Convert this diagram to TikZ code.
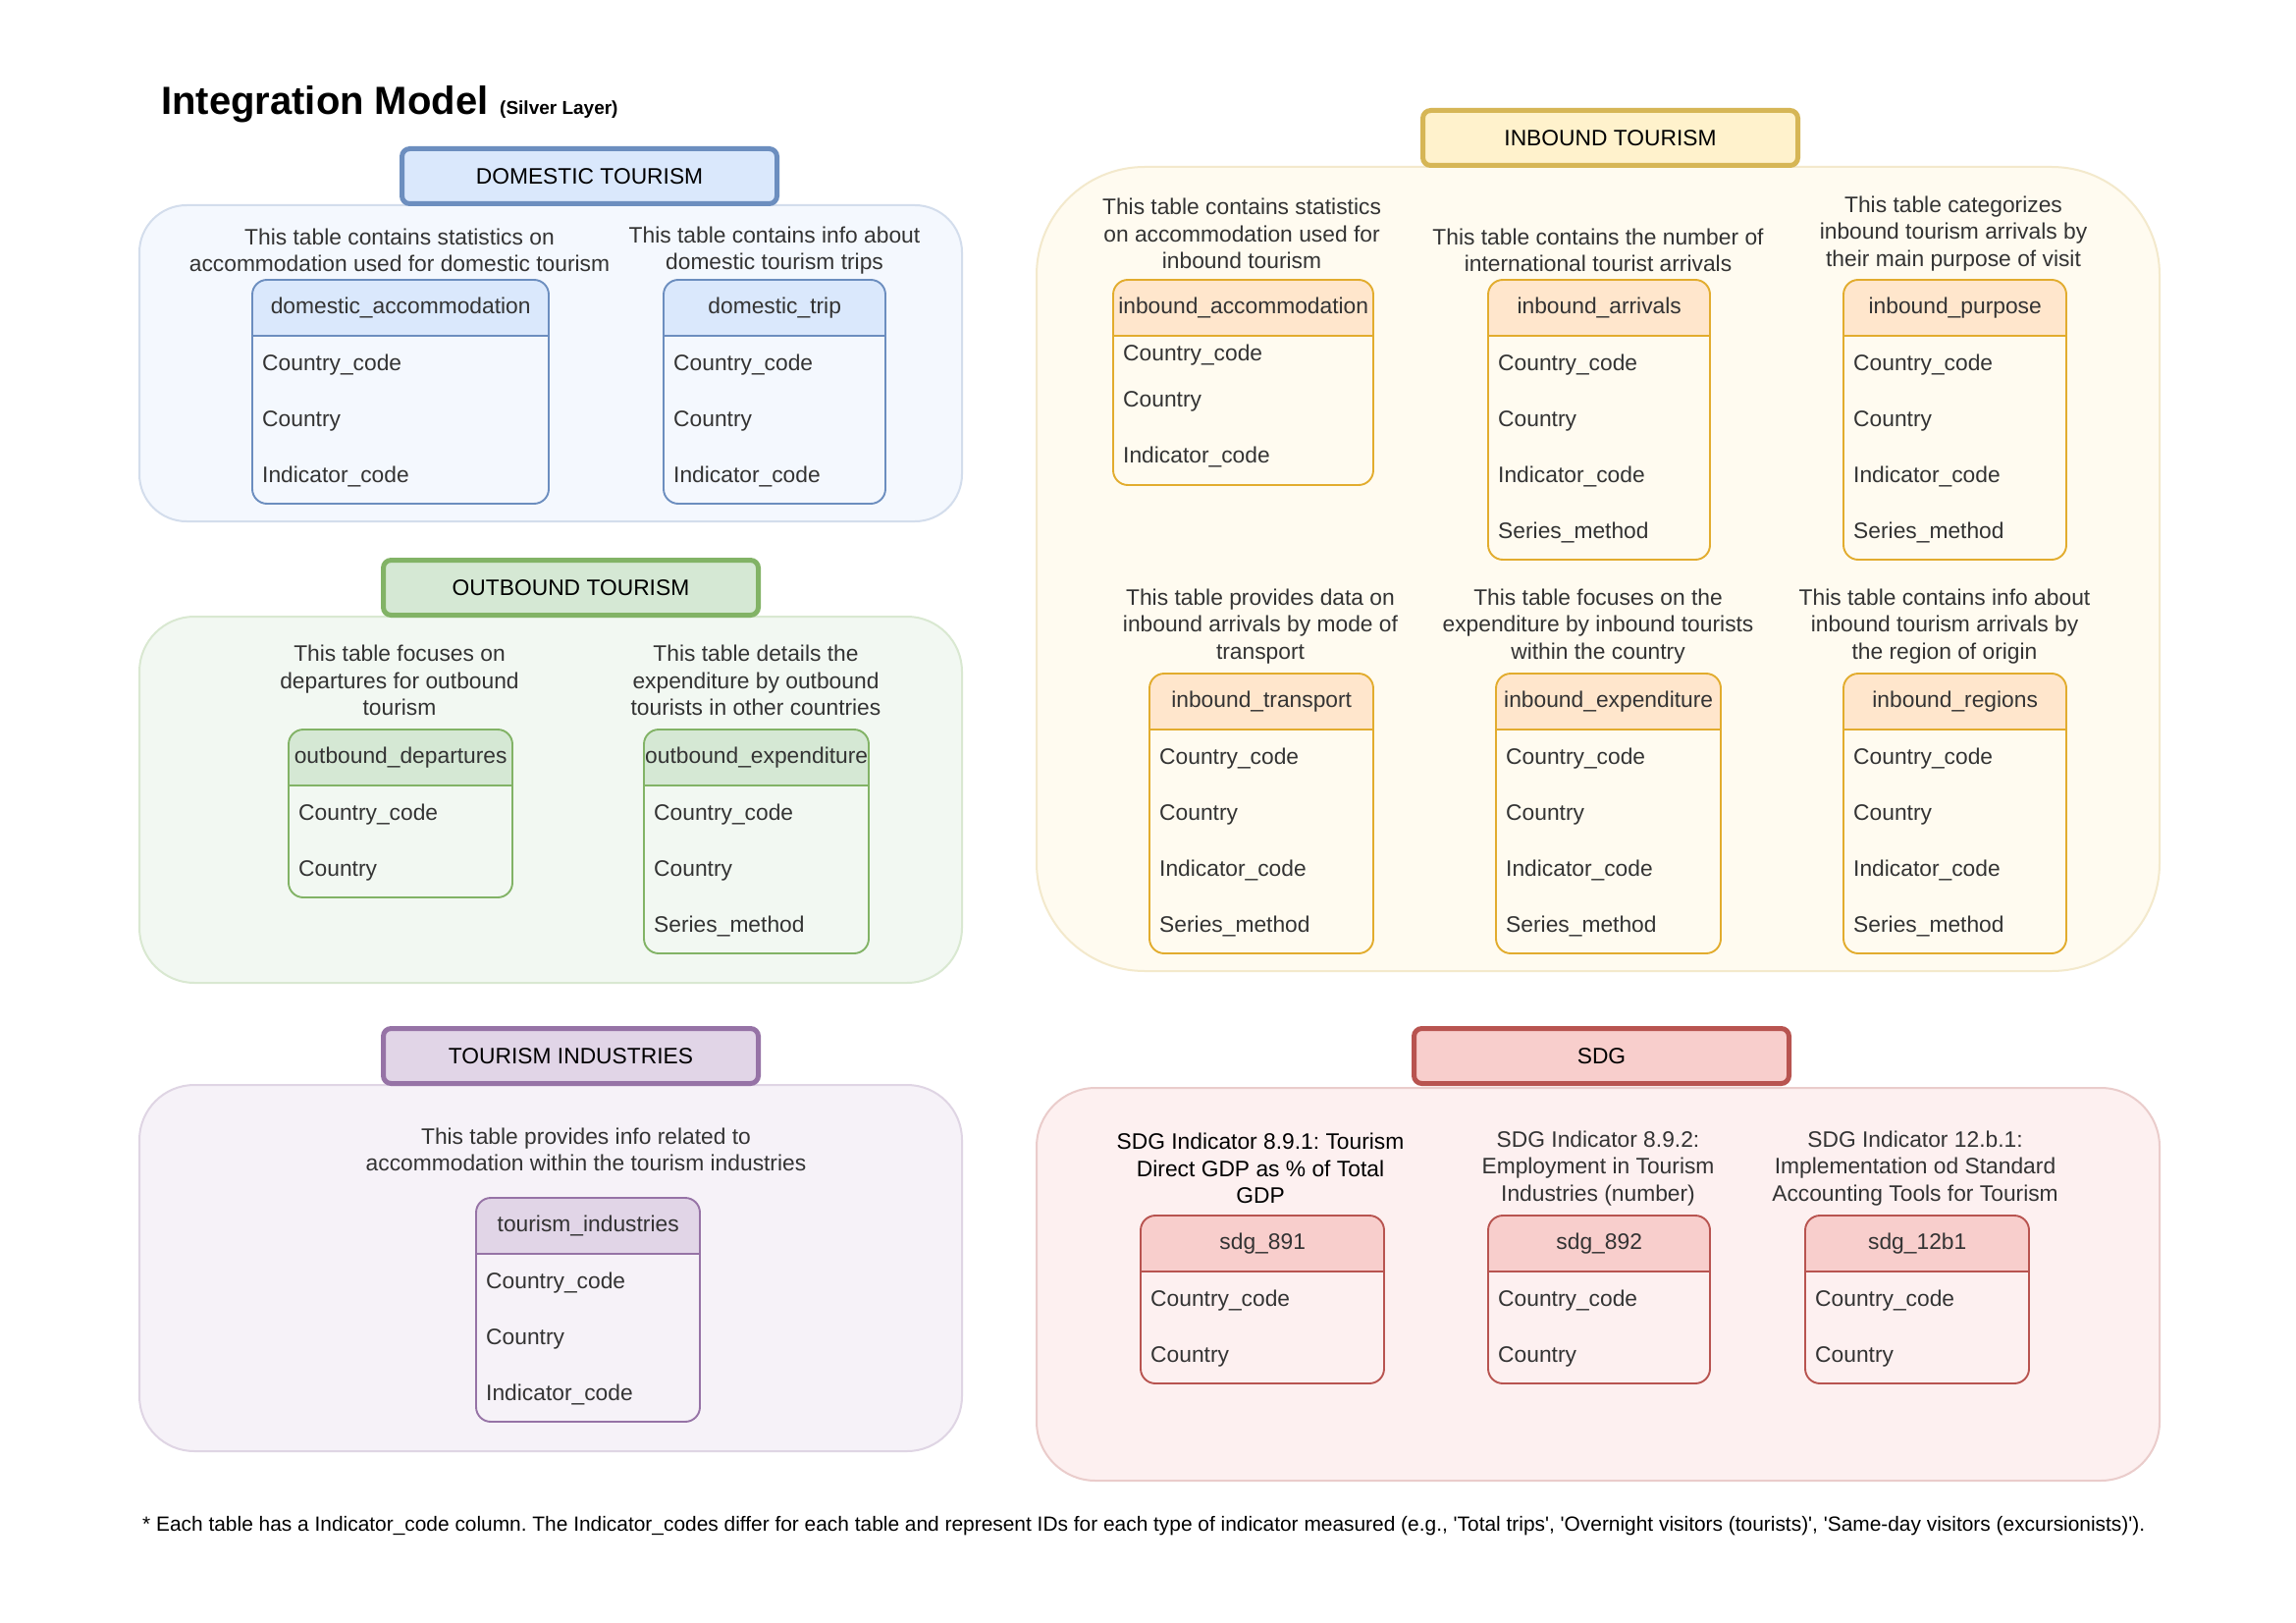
\documentclass[tikz,border=0pt]{standalone}
\usepackage{fontspec}
\setmainfont{Liberation Sans}

\definecolor{blufill}{HTML}{DAE8FC}
\definecolor{blustroke}{HTML}{6C8EBF}
\definecolor{grnfill}{HTML}{D5E8D4}
\definecolor{grnstroke}{HTML}{82B366}
\definecolor{purfill}{HTML}{E1D5E7}
\definecolor{purstroke}{HTML}{9673A6}
\definecolor{yelfill}{HTML}{FFF2CC}
\definecolor{yelstroke}{HTML}{D6B656}
\definecolor{orafill}{HTML}{FFE6CC}
\definecolor{orastroke}{HTML}{E2AC2E}
\definecolor{redfill}{HTML}{F8CECC}
\definecolor{redstroke}{HTML}{B85450}
\definecolor{txtgray}{HTML}{333333}

\tikzset{
  grouphead/.style={draw,line width=5pt,rounded corners=8pt,minimum width=382pt,minimum height=56pt,
    anchor=north west,inner sep=0pt,font=\fontsize{22.8}{27.4}\selectfont,text=black},
  groupbox/.style={line width=2pt},
  tblhead/.style={minimum height=57pt,anchor=north west,inner sep=0pt,
    font=\fontsize{22.8}{27.4}\selectfont,text=txtgray},
  tblline/.style={line width=1.9pt},
  tblrow/.style={anchor=base west,inner sep=0pt,font=\fontsize{22.8}{27.4}\selectfont,text=txtgray},
  desc/.style={align=center,inner sep=0pt,font=\fontsize{22.8}{27.4}\selectfont\frenchspacing,text=txtgray},
}

\begin{document}
\begin{tikzpicture}[x=1pt,y=-1pt]

\useasboundingbox[fill=white] (0,0) rectangle (2339,1653);

% title
\node[anchor=base west,inner sep=0pt,font=\fontsize{40}{48}\selectfont\bfseries] (title) at (164,117) {Integration Model};
\node[anchor=base west,inner sep=0pt,font=\fontsize{19}{23}\selectfont\bfseries] (subtitle) at (509,117) {(Silver Layer)};

% group boxes
\draw[groupbox,fill=blufill!30,draw=blustroke!30,rounded corners=48pt] (142,209) rectangle (980,531);
\draw[groupbox,fill=grnfill!30,draw=grnstroke!30,rounded corners=56pt] (142,628) rectangle (980,1001);
\draw[groupbox,fill=purfill!30,draw=purstroke!30,rounded corners=56pt] (142,1105) rectangle (980,1478);
\draw[groupbox,fill=yelfill!30,draw=yelstroke!30,rounded corners=110pt] (1056,170) rectangle (2200,989);
\draw[groupbox,fill=redfill!30,draw=redstroke!30,rounded corners=60pt] (1056,1108) rectangle (2200,1508);

\node[grouphead,fill=blufill,draw=blustroke] (domestic) at (407,149) {DOMESTIC TOURISM};
\node[grouphead,fill=grnfill,draw=grnstroke] (outbound) at (388,568) {OUTBOUND TOURISM};
\node[grouphead,fill=purfill,draw=purstroke] (industries) at (388,1045) {TOURISM INDUSTRIES};
\node[grouphead,fill=yelfill,draw=yelstroke] (inbound) at (1447,110) {INBOUND TOURISM};
\node[grouphead,fill=redfill,draw=redstroke] (sdg) at (1438,1045) {SDG};

% descriptions
\node[desc] (d-domacc) at (407,255) {This table contains statistics on\\accommodation used for domestic tourism};
\node[desc] (d-domtrip) at (789,255) {This table contains info about\\domestic tourism trips};
\node[desc] (d-outdep) at (407,693) {This table focuses on\\departures for outbound\\tourism};
\node[desc] (d-outexp) at (770,693) {This table details the\\expenditure by outbound\\tourists in other countries};
\node[desc] (d-indus) at (597,1171) {This table provides info related to\\accommodation within the tourism industries};
\node[desc] (d-inacc) at (1265,238) {This table contains statistics\\on accommodation used for\\inbound tourism};
\node[desc] (d-inarr) at (1628,255) {This table contains the number of\\international tourist arrivals};
\node[desc] (d-inpur) at (1990,238) {This table categorizes\\inbound tourism arrivals by\\their main purpose of visit};
\node[desc] (d-intrans) at (1284,638) {This table provides data on\\inbound arrivals by mode of\\transport};
\node[desc] (d-inexp) at (1628,638) {This table focuses on the\\expenditure by inbound tourists\\within the country};
\node[desc] (d-inreg) at (1981,638) {This table contains info about\\inbound tourism arrivals by\\the region of origin};
\node[desc,text=black] (d-sdg891) at (1284,1190) {SDG Indicator 8.9.1: Tourism\\Direct GDP as \% of Total\\GDP};
\node[desc] (d-sdg892) at (1628,1190) {SDG Indicator 8.9.2:\\Employment in Tourism\\Industries (number)};
\node[desc] (d-sdg12b1) at (1951,1190) {SDG Indicator 12.b.1:\\Implementation od Standard\\Accounting Tools for Tourism};

% domestic_accommodation
\fill[blufill,rounded corners=15pt] (257,285) rectangle (559,342);
\fill[blufill] (257,310) rectangle (559,342);
\node[tblhead,minimum width=302pt] (domacc) at (257,285) {domestic\_accommodation};
\foreach \f [count=\i] in {Country\_code,Country,Indicator\_code}
  \node[tblrow] (domacc-\i) at (267,{342+57*\i-21.5}) {\f};
\draw[tblline,blustroke] (domacc.south west) -- (domacc.south east);
\draw[tblline,blustroke,rounded corners=15pt] (257,285) rectangle (559,513);

% domestic_trip
\fill[blufill,rounded corners=15pt] (676,285) rectangle (902,342);
\fill[blufill] (676,310) rectangle (902,342);
\node[tblhead,minimum width=226pt] (domtrip) at (676,285) {domestic\_trip};
\foreach \f [count=\i] in {Country\_code,Country,Indicator\_code}
  \node[tblrow] (domtrip-\i) at (686,{342+57*\i-21.5}) {\f};
\draw[tblline,blustroke] (domtrip.south west) -- (domtrip.south east);
\draw[tblline,blustroke,rounded corners=15pt] (676,285) rectangle (902,513);

% outbound_departures
\fill[grnfill,rounded corners=15pt] (294,743) rectangle (522,800);
\fill[grnfill] (294,770) rectangle (522,800);
\node[tblhead,minimum width=228pt] (outdep) at (294,743) {outbound\_departures};
\foreach \f [count=\i] in {Country\_code,Country}
  \node[tblrow] (outdep-\i) at (304,{800+57*\i-21.5}) {\f};
\draw[tblline,grnstroke] (outdep.south west) -- (outdep.south east);
\draw[tblline,grnstroke,rounded corners=15pt] (294,743) rectangle (522,914);

% outbound_expenditure
\fill[grnfill,rounded corners=15pt] (656,743) rectangle (885,800);
\fill[grnfill] (656,770) rectangle (885,800);
\node[tblhead,minimum width=229pt] (outexp) at (656,743) {outbound\_expenditure};
\foreach \f [count=\i] in {Country\_code,Country,Series\_method}
  \node[tblrow] (outexp-\i) at (666,{800+57*\i-21.5}) {\f};
\draw[tblline,grnstroke] (outexp.south west) -- (outexp.south east);
\draw[tblline,grnstroke,rounded corners=15pt] (656,743) rectangle (885,971);

% tourism_industries
\fill[purfill,rounded corners=15pt] (485,1220) rectangle (713,1277);
\fill[purfill] (485,1247) rectangle (713,1277);
\node[tblhead,minimum width=228pt] (indus) at (485,1220) {tourism\_industries};
\foreach \f [count=\i] in {Country\_code,Country,Indicator\_code}
  \node[tblrow] (indus-\i) at (495,{1277+57*\i-21.5}) {\f};
\draw[tblline,purstroke] (indus.south west) -- (indus.south east);
\draw[tblline,purstroke,rounded corners=15pt] (485,1220) rectangle (713,1448);

% inbound_accommodation
\fill[orafill,rounded corners=15pt] (1134,285) rectangle (1399,342);
\fill[orafill] (1134,310) rectangle (1399,342);
\node[tblhead,minimum width=265pt] (inacc) at (1134,285) {inbound\_accommodation};
\node[tblrow] (inacc-1) at (1144,367) {Country\_code};
\node[tblrow] (inacc-2) at (1144,414) {Country};
\node[tblrow] (inacc-3) at (1144,471) {Indicator\_code};
\draw[tblline,orastroke] (inacc.south west) -- (inacc.south east);
\draw[tblline,orastroke,rounded corners=15pt] (1134,285) rectangle (1399,494);

% inbound_arrivals
\fill[orafill,rounded corners=15pt] (1516,285) rectangle (1742,342);
\fill[orafill] (1516,310) rectangle (1742,342);
\node[tblhead,minimum width=226pt] (inarr) at (1516,285) {inbound\_arrivals};
\foreach \f [count=\i] in {Country\_code,Country,Indicator\_code,Series\_method}
  \node[tblrow] (inarr-\i) at (1526,{342+57*\i-21.5}) {\f};
\draw[tblline,orastroke] (inarr.south west) -- (inarr.south east);
\draw[tblline,orastroke,rounded corners=15pt] (1516,285) rectangle (1742,570);

% inbound_purpose
\fill[orafill,rounded corners=15pt] (1878,285) rectangle (2105,342);
\fill[orafill] (1878,310) rectangle (2105,342);
\node[tblhead,minimum width=227pt] (inpur) at (1878,285) {inbound\_purpose};
\foreach \f [count=\i] in {Country\_code,Country,Indicator\_code,Series\_method}
  \node[tblrow] (inpur-\i) at (1888,{342+57*\i-21.5}) {\f};
\draw[tblline,orastroke] (inpur.south west) -- (inpur.south east);
\draw[tblline,orastroke,rounded corners=15pt] (1878,285) rectangle (2105,570);

% inbound_transport
\fill[orafill,rounded corners=15pt] (1171,686) rectangle (1399,743);
\fill[orafill] (1171,713) rectangle (1399,743);
\node[tblhead,minimum width=228pt] (intrans) at (1171,686) {inbound\_transport};
\foreach \f [count=\i] in {Country\_code,Country,Indicator\_code,Series\_method}
  \node[tblrow] (intrans-\i) at (1181,{743+57*\i-21.5}) {\f};
\draw[tblline,orastroke] (intrans.south west) -- (intrans.south east);
\draw[tblline,orastroke,rounded corners=15pt] (1171,686) rectangle (1399,971);

% inbound_expenditure
\fill[orafill,rounded corners=15pt] (1524,686) rectangle (1753,743);
\fill[orafill] (1524,713) rectangle (1753,743);
\node[tblhead,minimum width=229pt] (inexp) at (1524,686) {inbound\_expenditure};
\foreach \f [count=\i] in {Country\_code,Country,Indicator\_code,Series\_method}
  \node[tblrow] (inexp-\i) at (1534,{743+57*\i-21.5}) {\f};
\draw[tblline,orastroke] (inexp.south west) -- (inexp.south east);
\draw[tblline,orastroke,rounded corners=15pt] (1524,686) rectangle (1753,971);

% inbound_regions
\fill[orafill,rounded corners=15pt] (1878,686) rectangle (2105,743);
\fill[orafill] (1878,713) rectangle (2105,743);
\node[tblhead,minimum width=227pt] (inreg) at (1878,686) {inbound\_regions};
\foreach \f [count=\i] in {Country\_code,Country,Indicator\_code,Series\_method}
  \node[tblrow] (inreg-\i) at (1888,{743+57*\i-21.5}) {\f};
\draw[tblline,orastroke] (inreg.south west) -- (inreg.south east);
\draw[tblline,orastroke,rounded corners=15pt] (1878,686) rectangle (2105,971);

% sdg_891
\fill[redfill,rounded corners=15pt] (1162,1238) rectangle (1410,1295);
\fill[redfill] (1162,1265) rectangle (1410,1295);
\node[tblhead,minimum width=248pt] (sdg891) at (1162,1238) {sdg\_891};
\foreach \f [count=\i] in {Country\_code,Country}
  \node[tblrow] (sdg891-\i) at (1172,{1295+57*\i-21.5}) {\f};
\draw[tblline,redstroke] (sdg891.south west) -- (sdg891.south east);
\draw[tblline,redstroke,rounded corners=15pt] (1162,1238) rectangle (1410,1409);

% sdg_892
\fill[redfill,rounded corners=15pt] (1516,1238) rectangle (1742,1295);
\fill[redfill] (1516,1265) rectangle (1742,1295);
\node[tblhead,minimum width=226pt] (sdg892) at (1516,1238) {sdg\_892};
\foreach \f [count=\i] in {Country\_code,Country}
  \node[tblrow] (sdg892-\i) at (1526,{1295+57*\i-21.5}) {\f};
\draw[tblline,redstroke] (sdg892.south west) -- (sdg892.south east);
\draw[tblline,redstroke,rounded corners=15pt] (1516,1238) rectangle (1742,1409);

% sdg_12b1
\fill[redfill,rounded corners=15pt] (1839,1238) rectangle (2067,1295);
\fill[redfill] (1839,1265) rectangle (2067,1295);
\node[tblhead,minimum width=228pt] (sdg12b1) at (1839,1238) {sdg\_12b1};
\foreach \f [count=\i] in {Country\_code,Country}
  \node[tblrow] (sdg12b1-\i) at (1849,{1295+57*\i-21.5}) {\f};
\draw[tblline,redstroke] (sdg12b1.south west) -- (sdg12b1.south east);
\draw[tblline,redstroke,rounded corners=15pt] (1839,1238) rectangle (2067,1409);

% footnote
\node[anchor=base west,inner sep=0pt,font=\fontsize{20.9}{25}\selectfont\frenchspacing] (note) at (145,1559)
  {* Each table has a Indicator\_code column. The Indicator\_codes differ for each table and represent IDs for each type of indicator measured (e.g., \textquotesingle Total trips\textquotesingle, \textquotesingle Overnight visitors (tourists)\textquotesingle, \textquotesingle Same-day visitors (excursionists)\textquotesingle).};

\end{tikzpicture}
\end{document}
